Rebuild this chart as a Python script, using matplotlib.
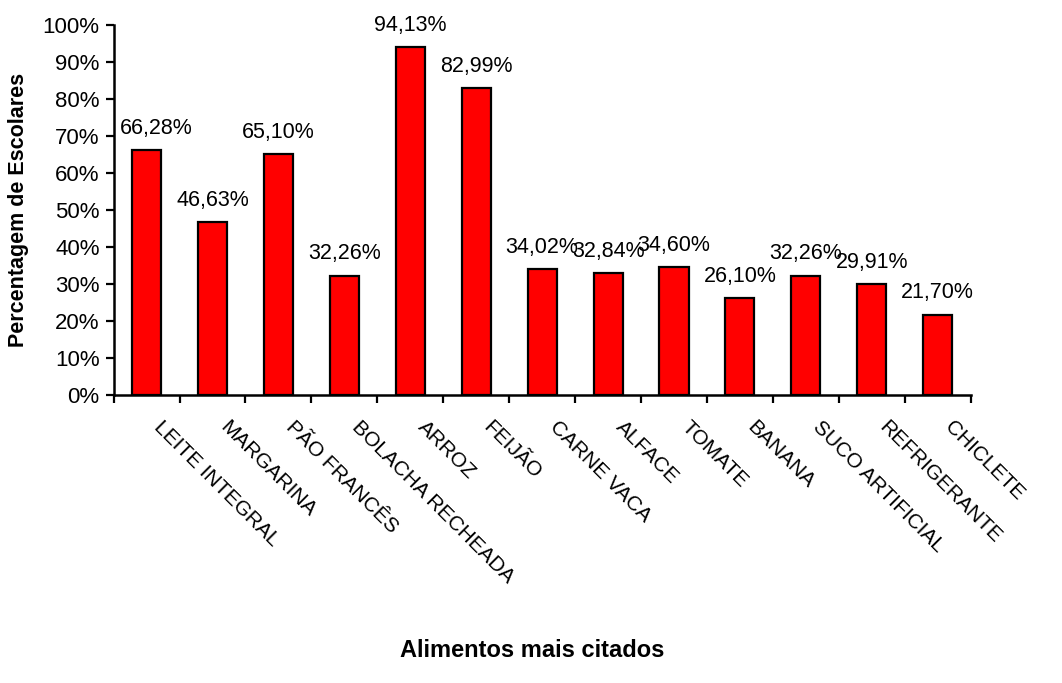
import numpy as np
import matplotlib.pyplot as plt
from matplotlib.ticker import MultipleLocator, FuncFormatter
from matplotlib.transforms import ScaledTranslation

plt.rcParams['font.family'] = ['Liberation Sans', 'DejaVu Sans']

alimentos = ["LEITE INTEGRAL", "MARGARINA", "PÃO FRANCÊS", "BOLACHA RECHEADA",
             "ARROZ", "FEIJÃO", "CARNE VACA", "ALFACE", "TOMATE", "BANANA",
             "SUCO ARTIFICIAL", "REFRIGERANTE", "CHICLETE"]
percentagem = [66.28, 46.63, 65.10, 32.26, 94.13, 82.99, 34.02, 32.84,
               34.60, 26.10, 32.26, 29.91, 21.70]

fig = plt.figure(figsize=(10.62, 6.83), dpi=100)
ax = fig.add_axes([0.107, 0.422, 0.807, 0.541])

x = np.arange(len(alimentos))
ax.bar(x, percentagem, width=0.44, color="#FF0000", edgecolor="black", linewidth=1.6)

# rotulos de valor acima de cada barra (o primeiro afastado do eixo)
for xi, v in zip(x, percentagem):
    dx = 7 if xi == 0 else 0
    ax.annotate(("%.2f%%" % v).replace(".", ","), (xi, v), xytext=(dx, 8),
                textcoords="offset points", ha="center", va="bottom", fontsize=15.5)

ax.set_xlim(-0.5, len(alimentos) - 0.5)
ax.set_ylim(0, 100)
ax.yaxis.set_major_locator(MultipleLocator(10))
ax.yaxis.set_major_formatter(FuncFormatter(lambda v, p: "%d%%" % v))

# ticks do eixo x nas divisas entre categorias, nomes no centro
ax.set_xticks(np.arange(len(alimentos) + 1) - 0.5)
ax.set_xticklabels([])
ax.set_xticks(x, minor=True)
ax.set_xticklabels(alimentos, minor=True, rotation=-45, ha="left",
                   rotation_mode="anchor", fontsize=15)
ax.tick_params(axis="x", which="minor", length=0, pad=16)
ax.tick_params(axis="x", which="major", length=6, width=1.6, direction="out")
ax.tick_params(axis="y", length=6, width=1.6, direction="out", labelsize=16, pad=4)
shift = ScaledTranslation(0.17, 0, fig.dpi_scale_trans)
for lbl in ax.get_xticklabels(minor=True):
    lbl.set_transform(lbl.get_transform() + shift)

for s in ["top", "right"]:
    ax.spines[s].set_visible(False)
for s in ["left", "bottom"]:
    ax.spines[s].set_linewidth(1.8)

ax.set_ylabel("Percentagem de Escolares", fontsize=15.5, fontweight="bold", labelpad=10)
fig.text(0.501, 0.048, "Alimentos mais citados", ha="center", va="center",
         fontsize=17, fontweight="bold")

fig.savefig("out.png", dpi=100)
